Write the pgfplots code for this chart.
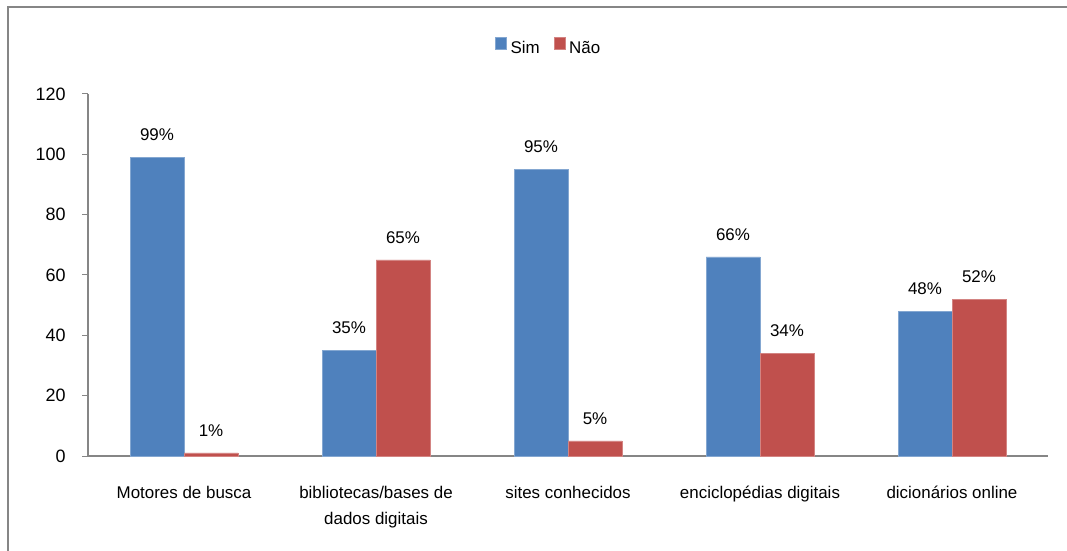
\documentclass[border=0pt]{standalone}
\usepackage{pgfplots}
\pgfplotsset{compat=1.18}
\usepackage{fontspec}
\setmainfont{Liberation Sans}
\definecolor{simblue}{HTML}{4F81BD}
\definecolor{naored}{HTML}{C0504D}
\definecolor{axisgray}{HTML}{868686}
\begin{document}
\begin{tikzpicture}
\useasboundingbox (0,0) rectangle (1067bp,551bp);
% outer frame (top and left edges)
\draw[axisgray, line width=2bp] (8bp,0) -- (8bp,544bp) -- (1067bp,544bp);
\begin{axis}[
  at={(88bp,95bp)}, anchor=south west,
  scale only axis,
  width=960bp, height=362bp,
  xmin=-0.5, xmax=4.5,
  ymin=0, ymax=120,
  ytick={0,20,...,120},
  xtick={0,1,2,3,4},
  xticklabels={Motores de busca, {bibliotecas/bases de\\dados digitais}, sites conhecidos, enciclopédias digitais, dicionários online},
  xticklabel style={align=center, font=\fontsize{17}{26}\selectfont, yshift=-21bp},
  yticklabel style={font=\fontsize{18}{20}\selectfont, xshift=-13bp},
  /pgf/number format/assume math mode=true,
  major x tick style={draw=none},
  extra x ticks={-0.5,0.5,1.5,2.5,3.5,4.5},
  extra x tick labels={},
  extra x tick style={major tick length=7bp, tick align=outside, tick style={axisgray, line width=1bp}},
  tick align=outside,
  major tick length=6bp,
  ytick style={axisgray, line width=1bp},
  axis x line*=bottom,
  axis y line*=left,
  axis line style={axisgray, line width=1.2bp},
  ybar=0pt,
  bar width=54bp,
  nodes near coords={\pgfmathprintnumber{\pgfplotspointmeta}\%},
  every node near coord/.append style={font=\fontsize{17}{20}\selectfont, black, yshift=13bp},
  legend style={at={(0.48,1.13)}, anchor=center, draw=none, legend columns=2,
    font=\fontsize{17}{20}\selectfont,
    /tikz/every even column/.append style={column sep=12bp},
    /tikz/every odd column/.append style={column sep=2bp}},
  legend image code/.code={\fill[#1] (0bp,-1bp) rectangle (11bp,11bp);},
  clip=false,
]
\addplot[fill=simblue, draw=simblue!70!white] coordinates {(0,99) (1,35) (2,95) (3,66) (4,48)};
\addplot[fill=naored, draw=naored!70!white] coordinates {(0,1) (1,65) (2,5) (3,34) (4,52)};
\legend{Sim, Não}
\end{axis}
\end{tikzpicture}
\end{document}
